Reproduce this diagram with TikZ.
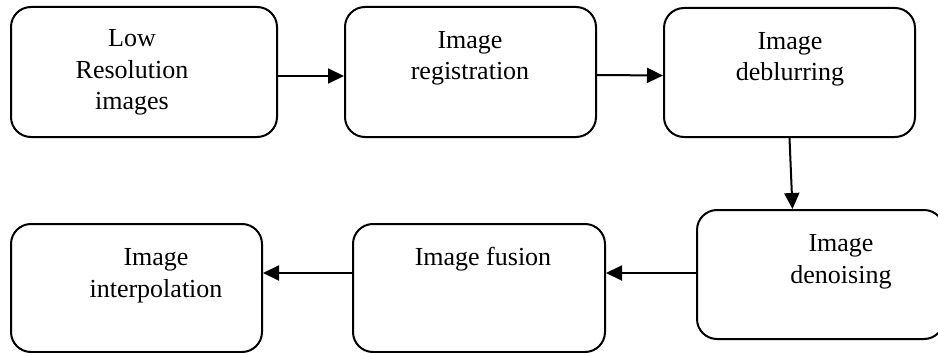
\documentclass[tikz,border=0pt]{standalone}
\usepackage{fontspec}
\setmainfont{Liberation Serif}
\usetikzlibrary{arrows.meta}
\begin{document}
\begin{tikzpicture}[x=1pt,y=-1pt,
  box/.style={draw, line width=2pt, rounded corners=20pt, inner sep=0pt},
  lbl/.style={font=\fontsize{26}{31.5}\selectfont, align=center, inner sep=0pt, anchor=base},
  arr/.style={line width=2pt, -{Triangle[length=16pt,width=15pt]}}]
\useasboundingbox (0,0) rectangle (938,353);
\node[box, minimum width=266pt, minimum height=130pt] (b1) at (144,72) {};
\node[box, minimum width=251pt, minimum height=130pt] (b2) at (470.5,72) {};
\node[box, minimum width=251pt, minimum height=129pt] (b3) at (789.5,72.5) {};
\node[box, minimum width=247pt, minimum height=129pt] (b4) at (820.5,274.5) {};
\node[box, minimum width=252pt, minimum height=128pt] (b5) at (479,288) {};
\node[box, minimum width=251pt, minimum height=128pt] (b6) at (136.5,288) {};
\node[lbl] (t1) at (132,110) {Low\\Resolution\\images};
\node[lbl] (t2) at (470,80) {Image\\registration};
\node[lbl] (t3) at (790,81) {Image\\deblurring};
\node[lbl] (t4) at (841,283) {Image\\denoising};
\node[lbl] (t5) at (483,265) {Image fusion};
\node[lbl] (t6) at (156,297) {Image\\interpolation};
\draw[arr] ([yshift=-4pt]b1.east) -- ([yshift=-4pt]b2.west);
\draw[arr] ([yshift=-3pt]b2.east) -- ([yshift=-3pt]b3.west);
\draw[arr] (b3.south) -- ([xshift=-28pt]b4.north);
\draw[arr] ([yshift=1.5pt]b4.west) -- ([yshift=15pt]b5.east);
\draw[arr] ([yshift=15pt]b5.west) -- ([yshift=15pt]b6.east);
\end{tikzpicture}
\end{document}
